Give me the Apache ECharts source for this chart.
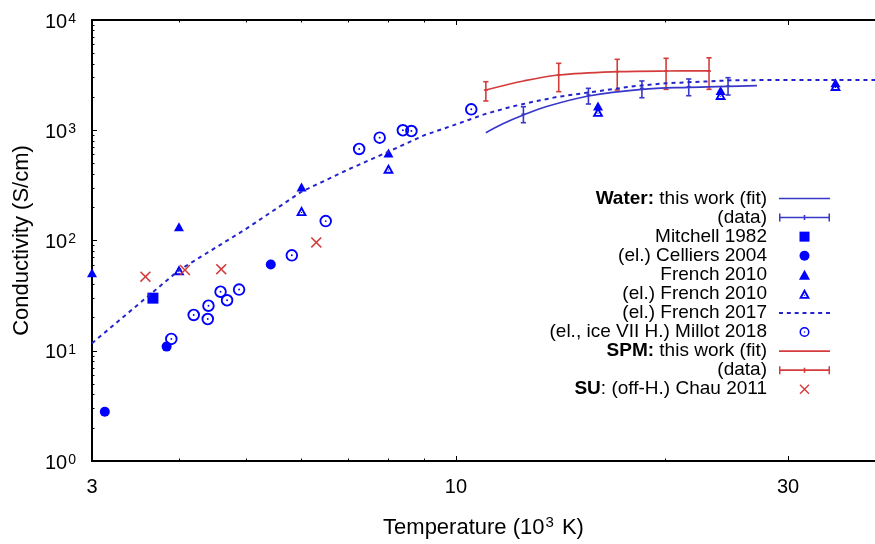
<!DOCTYPE html>
<html>
<head>
<meta charset="utf-8">
<title>Conductivity vs temperature</title>
<script src="https://cdn.jsdelivr.net/npm/echarts@6.0.0/dist/echarts.min.js"></script>
<style>
  html, body { margin: 0; padding: 0; background: #fff; }
  #chart { width: 875px; height: 544px; }
</style>
</head>
<body>
<div id="chart"></div>
<script>
// ---- data (temperature in 10^3 K, conductivity in S/cm) ----
const X_MAJOR = [3, 10, 30];
const X_MINOR = [4, 5, 6, 7, 8, 9, 20];
const Y_EXPONENTS = [0, 1, 2, 3, 4];
const Y_MINOR_MULT = [2, 3, 4, 5, 6, 7, 8, 9];

const WATER_FIT = [[11.04, 950], [11.7, 1151], [12.5, 1375], [13.5, 1642], [15.5, 2046],
  [18.5, 2352], [21.6, 2453], [24.6, 2504], [27.07, 2537]];
// [T, value, low, high]
const WATER_DATA = [[12.5, 1395, 1171, 1636], [15.5, 2088, 1730, 2400], [18.5, 2400, 1973, 2799],
  [21.6, 2484, 2057, 2916], [24.6, 2510, 2088, 2998]];
const MITCHELL_1982 = [[3.67, 30]];
const CELLIERS_2004 = [[3.13, 2.8], [3.84, 10.9], [5.42, 60.5]];
const FRENCH_2010 = [[3.0, 51], [4.0, 133], [6.0, 306], [8.0, 622], [16.0, 1660], [24.0, 2290], [35.1, 2700]];
const FRENCH_2010_EL = [[4.0, 53.7], [6.0, 185], [8.0, 448], [16.0, 1470], [24.0, 2090], [35.1, 2520]];
const FRENCH_2017_EL = [[3, 11.7], [4, 53.7], [5, 128], [6, 277], [7, 440], [8, 640], [9, 900],
  [10, 1130], [11, 1400], [12, 1633], [13, 1830], [14, 2010], [16, 2261], [18, 2508], [20, 2667],
  [25, 2840], [30, 2860], [40, 2860]];
const MILLOT_2018 = [[3.9, 12.8], [4.2, 21.1], [4.4, 19.4], [4.41, 25.6], [4.59, 34.3], [4.69, 28.7],
  [4.88, 35.9], [5.81, 73.4], [6.5, 150], [7.26, 676], [7.77, 857], [8.39, 1000], [8.63, 984], [10.52, 1549]];
const SPM_FIT = [[11.04, 2317], [12.5, 2797], [14.05, 3171], [17.05, 3398], [20.04, 3446], [23.1, 3450]];
const SPM_DATA = [[11.04, 2317, 1842, 2756], [14.05, 3171, 2238, 4048], [17.05, 3398, 2317, 4399],
  [20.04, 3446, 2350, 4492], [23.1, 3446, 2350, 4540]];
const CHAU_2011 = [[3.58, 47], [4.08, 54], [4.6, 55], [6.3, 96]];

const LEGEND_TEXT = {
  'Water fit': '{b|Water:} this work (fit)',
  'Water data': '(data)',
  'Mitchell 1982': 'Mitchell 1982',
  'Celliers 2004': '(el.) Celliers 2004',
  'French 2010': 'French 2010',
  'French 2010 el': '(el.) French 2010',
  'French 2017': '(el.) French 2017',
  'Millot 2018': '(el., ice VII H.) Millot 2018',
  'SPM fit': '{b|SPM:} this work (fit)',
  'SPM data': '(data)',
  'Chau 2011': '{b|SU}: (off-H.) Chau 2011'
};

// ---- styles ----
const FONT = 'Liberation Sans, Arial, sans-serif';
const BLUE = '#0000ff';
const BLUE_LINE = '#3737c8';
const BLUE_DOT = '#2424cc';
const RED = '#d43c3c';

const RING = 'path://M0,-6A6,6,0,0,1,0,6A6,6,0,0,1,0,-6Z M0,-4.2A4.2,4.2,0,0,0,0,4.2A4.2,4.2,0,0,0,0,-4.2Z M0,-0.9A0.9,0.9,0,0,1,0,0.9A0.9,0.9,0,0,1,0,-0.9Z';
const OPEN_TRI = 'path://M5.5,0L11,10L0,10Z M5.5,3.94L3.21,8.1L7.79,8.1Z M5,5.9h1v1h-1Z';
const CROSS = 'path://M0,1L1,0L5,4L9,0L10,1L6,5L10,9L9,10L5,6L1,10L0,9L4,5Z';
const SQUARE_ICON = 'path://M0,0h10v10h-10Z';
const TRI_ICON = 'path://M5,0L10,9L0,9Z';
const LINE_ICON = 'path://M0,0h51v1.7h-51Z';
const ERR_ICON = 'path://M0,0h1.5v8h-1.5Z M0,3.2h51v1.6h-51Z M49.5,0h1.5v8h-1.5Z M24.7,1.5h1.6v5h-1.6Z';
let DASH_ICON = 'path://';
for (let i = 0; i < 7; i++) {
  const x0 = i * (47 / 6);
  DASH_ICON += `M${x0.toFixed(2)},0h4v2h-4Z `;
}

const LX0 = Math.log10(3) - 1e-9;
const LX1 = Math.log10(40);
const yMinor = [];
for (let e = 0; e < 4; e++) Y_MINOR_MULT.forEach((m) => yMinor.push(e + Math.log10(m)));

const chart = echarts.init(document.getElementById('chart'), null, { renderer: 'canvas' });

function errorBar(params, api) {
  const x = api.value(0);
  const p = api.coord([x, api.value(1)]);
  const lo = api.coord([x, api.value(2)]);
  const hi = api.coord([x, api.value(3)]);
  const c = api.visual('color');
  const st = { stroke: c, lineWidth: 1.6 };
  const cap = 2.6;
  return {
    type: 'group',
    children: [
      { type: 'line', shape: { x1: lo[0], y1: lo[1], x2: hi[0], y2: hi[1] }, style: st },
      { type: 'line', shape: { x1: lo[0] - cap, y1: lo[1], x2: lo[0] + cap, y2: lo[1] }, style: st },
      { type: 'line', shape: { x1: hi[0] - cap, y1: hi[1], x2: hi[0] + cap, y2: hi[1] }, style: st },
      { type: 'line', shape: { x1: p[0] - 2, y1: p[1], x2: p[0] + 2, y2: p[1] }, style: st }
    ]
  };
}

const tickStyle = { color: '#000', width: 1 };
const lineStyle = { color: '#000', width: 2 };
const markStyle = (color) => ({ color, opacity: 1 });

function valueX(extra) {
  return Object.assign({
    type: 'value', min: LX0, max: LX1,
    axisLine: { show: false, onZero: false },
    axisTick: { show: false },
    axisLabel: { show: false },
    splitLine: { show: false }
  }, extra);
}
function valueY(extra) {
  return Object.assign({
    type: 'value', min: 0, max: 4,
    axisLine: { show: false, onZero: false },
    axisTick: { show: false },
    axisLabel: { show: false },
    splitLine: { show: false }
  }, extra);
}

const option = {
  animation: false,
  backgroundColor: '#fff',
  grid: { left: 92, top: 20, width: 790, height: 441, containLabel: false },
  xAxis: [
    { type: 'log', logBase: 10, min: 3, max: 40, show: false },
    valueX({
      position: 'bottom',
      axisLine: { show: true, onZero: false, lineStyle },
      axisTick: { show: true, inside: true, length: 5, customValues: X_MAJOR.map(Math.log10), lineStyle: tickStyle },
      axisLabel: {
        show: true, customValues: X_MAJOR.map(Math.log10), margin: 16,
        fontFamily: FONT, fontSize: 20, color: '#000', lineHeight: 20,
        formatter: (v) => String(Math.round(Math.pow(10, v)))
      },
      name: '{t|Temperature (10}{s|3}{t| K)}',
      nameLocation: 'middle',
      nameGap: 53,
      nameTextStyle: {
        fontFamily: FONT, fontSize: 22, color: '#000',
        rich: {
          t: { fontFamily: FONT, fontSize: 22, color: '#000', lineHeight: 24, padding: [4, 0, 0, 0] },
          s: { fontFamily: FONT, fontSize: 15, color: '#000', lineHeight: 15, verticalAlign: 'top', padding: [1, 2, 0, 1] }
        }
      }
    }),
    valueX({
      position: 'bottom',
      axisTick: { show: true, inside: true, length: 2.5, customValues: X_MINOR.map(Math.log10), lineStyle: tickStyle }
    }),
    valueX({
      position: 'top',
      axisLine: { show: true, onZero: false, lineStyle },
      axisTick: { show: true, inside: true, length: 5, customValues: X_MAJOR.map(Math.log10), lineStyle: tickStyle }
    }),
    valueX({
      position: 'top',
      axisTick: { show: true, inside: true, length: 2.5, customValues: X_MINOR.map(Math.log10), lineStyle: tickStyle }
    })
  ],
  yAxis: [
    { type: 'log', logBase: 10, min: 1, max: 10000, show: false },
    valueY({
      position: 'left',
      axisLine: { show: true, onZero: false, lineStyle },
      axisTick: { show: true, inside: true, length: 5, customValues: Y_EXPONENTS, lineStyle: tickStyle },
      axisLabel: {
        show: true, customValues: Y_EXPONENTS, margin: 16,
        formatter: (v) => `{b|10}{s|${Math.round(v)}}`,
        rich: {
          b: { fontFamily: FONT, fontSize: 20, color: '#000', lineHeight: 20, padding: [4, 0, 0, 0] },
          s: { fontFamily: FONT, fontSize: 14, color: '#000', lineHeight: 14, verticalAlign: 'top', padding: [2, 0, 0, 1] }
        }
      },
      name: 'Conductivity (S/cm)',
      nameLocation: 'middle',
      nameGap: 59.5,
      nameTextStyle: { fontFamily: FONT, fontSize: 22, color: '#000', lineHeight: 22 }
    }),
    valueY({
      position: 'left',
      axisTick: { show: true, inside: true, length: 2.5, customValues: yMinor, lineStyle: tickStyle }
    })
  ],
  legend: {
    orient: 'vertical',
    right: 45,
    top: 189,
    padding: 0,
    align: 'right',
    itemWidth: 51,
    itemHeight: 10,
    itemGap: 0.07,
    selectedMode: false,
    formatter: (name) => LEGEND_TEXT[name],
    textStyle: {
      fontFamily: FONT, fontSize: 19, color: '#000', lineHeight: 19, padding: [0, 7, 0, 0],
      rich: { b: { fontFamily: FONT, fontSize: 19, fontWeight: 'bold', color: '#000', lineHeight: 19 } }
    },
    data: [
      { name: 'Water fit', icon: LINE_ICON },
      { name: 'Water data', icon: ERR_ICON },
      { name: 'Mitchell 1982', icon: SQUARE_ICON },
      { name: 'Celliers 2004', icon: 'circle' },
      { name: 'French 2010', icon: TRI_ICON },
      { name: 'French 2010 el', icon: OPEN_TRI },
      { name: 'French 2017', icon: DASH_ICON },
      { name: 'Millot 2018', icon: RING },
      { name: 'SPM fit', icon: LINE_ICON },
      { name: 'SPM data', icon: ERR_ICON },
      { name: 'Chau 2011', icon: CROSS }
    ]
  },
  series: [
    {
      name: 'Water fit', type: 'line', data: WATER_FIT, smooth: 0.35, symbol: 'none', clip: false,
      lineStyle: { color: BLUE_LINE, width: 1.7 }, itemStyle: { color: BLUE_LINE }
    },
    {
      name: 'Water data', type: 'custom', data: WATER_DATA, renderItem: errorBar, clip: false,
      encode: { x: 0, y: [1, 2, 3] }, itemStyle: { color: BLUE_LINE }
    },
    {
      name: 'Mitchell 1982', type: 'scatter', data: MITCHELL_1982, symbol: 'rect', symbolSize: 11,
      clip: false, itemStyle: markStyle(BLUE)
    },
    {
      name: 'Celliers 2004', type: 'scatter', data: CELLIERS_2004, symbol: 'circle', symbolSize: 10,
      clip: false, itemStyle: markStyle(BLUE)
    },
    {
      name: 'French 2010', type: 'scatter', data: FRENCH_2010, symbol: 'triangle', symbolSize: [10, 9],
      clip: false, itemStyle: markStyle(BLUE)
    },
    {
      name: 'French 2010 el', type: 'scatter', data: FRENCH_2010_EL, symbol: OPEN_TRI, symbolSize: [11, 10],
      clip: false, itemStyle: markStyle(BLUE)
    },
    {
      name: 'French 2017', type: 'line', data: FRENCH_2017_EL, symbol: 'none', clip: false,
      lineStyle: { color: BLUE_DOT, width: 2, type: [4, 4] }, itemStyle: { color: BLUE_DOT }
    },
    {
      name: 'Millot 2018', type: 'scatter', data: MILLOT_2018, symbol: RING, symbolSize: 12.5,
      clip: false, itemStyle: markStyle(BLUE)
    },
    {
      name: 'SPM fit', type: 'line', data: SPM_FIT, smooth: 0.35, symbol: 'none', clip: false,
      lineStyle: { color: RED, width: 1.7 }, itemStyle: { color: RED }
    },
    {
      name: 'SPM data', type: 'custom', data: SPM_DATA, renderItem: errorBar, clip: false,
      encode: { x: 0, y: [1, 2, 3] }, itemStyle: { color: RED }
    },
    {
      name: 'Chau 2011', type: 'scatter', data: CHAU_2011, symbol: CROSS, symbolSize: 11,
      clip: false, itemStyle: markStyle(RED)
    }
  ]
};

chart.setOption(option);
</script>
</body>
</html>
